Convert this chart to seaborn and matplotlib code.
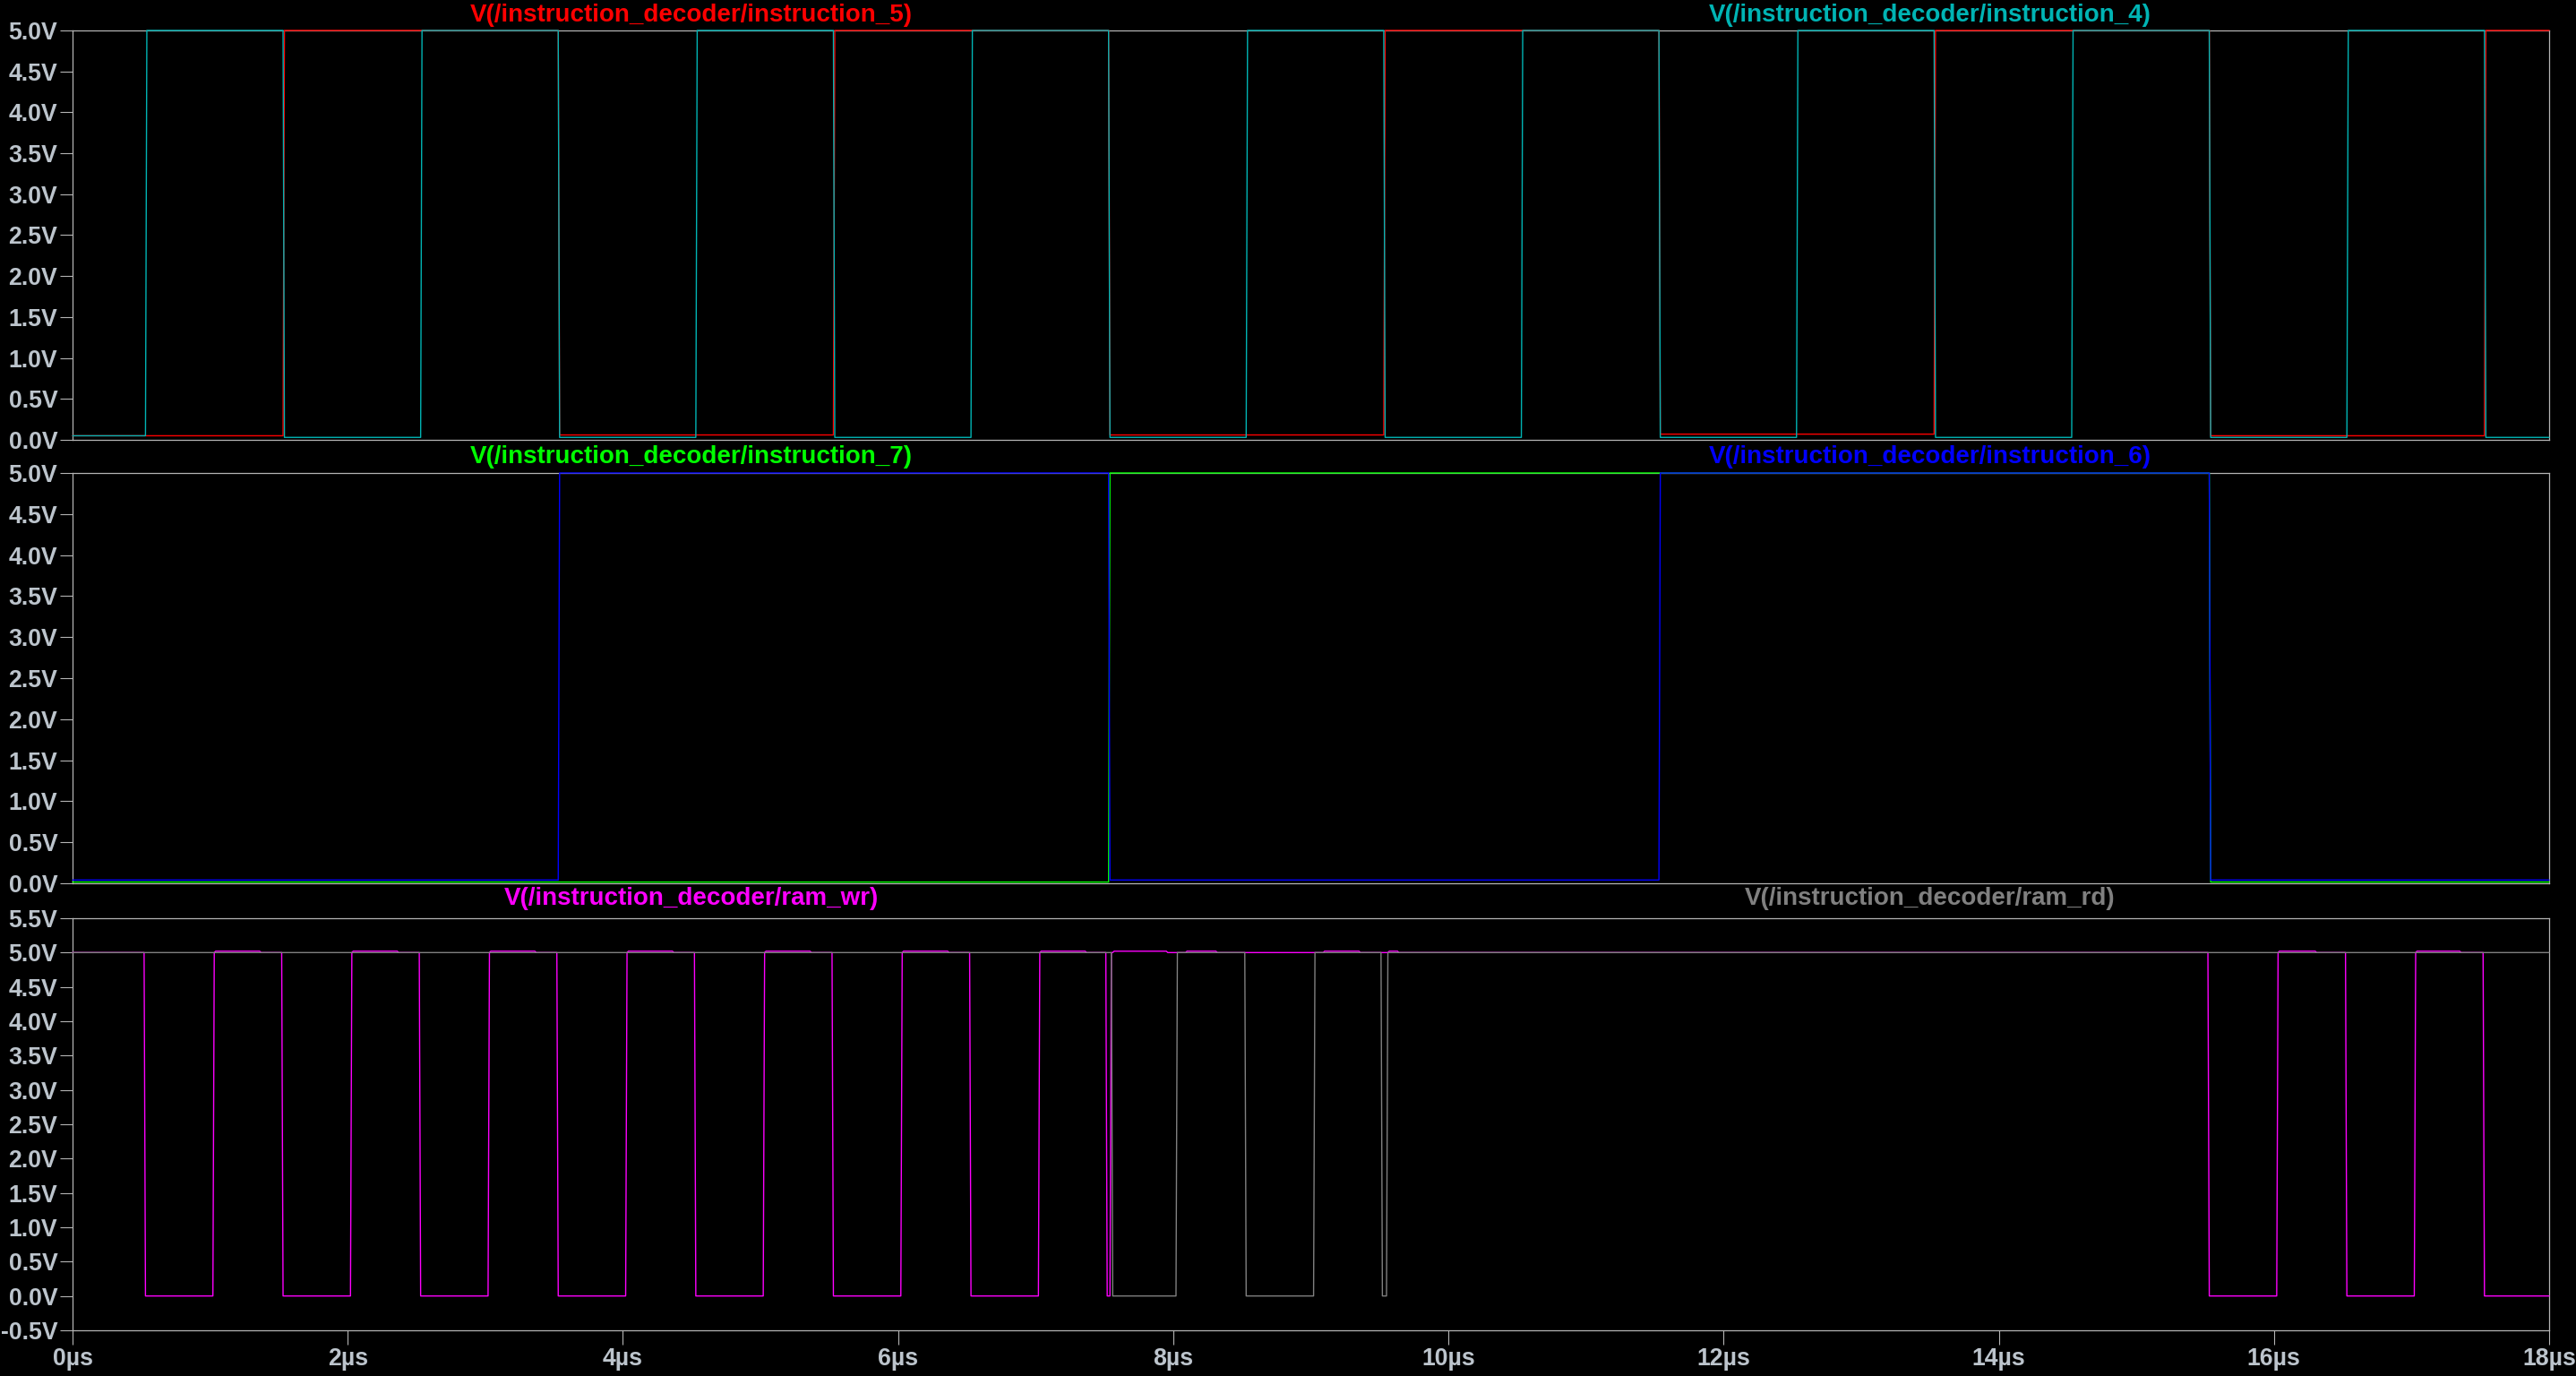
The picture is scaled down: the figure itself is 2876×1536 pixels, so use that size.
import numpy as np
import matplotlib
matplotlib.use("Agg")
import matplotlib.pyplot as plt
import seaborn as sns

# ---------------- data ----------------
# change points: time [µs] and the level [V] reached at that time
i4_times = [0.0, 0.53, 1.53, 2.53, 3.53, 4.53, 5.53, 6.53, 7.53, 8.53, 9.53,
            10.53, 11.53, 12.53, 13.53, 14.53, 15.53, 16.53, 17.53]
i4_levels = [0.05, 5.0, 0.03, 5.0, 0.03, 5.0, 0.03, 5.0, 0.03, 5.0, 0.03,
             5.0, 0.03, 5.0, 0.03, 5.0, 0.03, 5.0, 0.03]

i5_times = [0.0, 1.53, 3.53, 5.53, 7.53, 9.53, 11.53, 13.53, 15.53, 17.53]
i5_levels = [0.05, 5.0, 0.06, 5.0, 0.06, 5.0, 0.07, 5.0, 0.05, 5.0]

i6_times = [0.0, 3.53, 7.53, 11.53, 15.53]
i6_levels = [0.04, 5.0, 0.04, 5.0, 0.04]

i7_times = [0.0, 7.53, 15.53]
i7_levels = [0.015, 5.0, 0.015]

wr_times = [0.0, 0.52, 1.02, 1.03, 1.36, 1.52, 2.02, 2.03, 2.36, 2.52, 3.02, 3.03, 3.36,
            3.52, 4.02, 4.03, 4.36, 4.52, 5.02, 5.03, 5.36, 5.52, 6.02, 6.03, 6.36,
            6.52, 7.02, 7.03, 7.36, 7.51, 7.54, 7.56, 7.95, 8.09, 8.31, 9.09, 9.35,
            9.56, 9.63, 15.52, 16.02, 16.03, 16.30, 16.52, 17.02, 17.03, 17.35, 17.52]
wr_levels = [5.0, 0.0, 5.0, 5.02, 5.0, 0.0, 5.0, 5.02, 5.0, 0.0, 5.0, 5.02, 5.0,
             0.0, 5.0, 5.02, 5.0, 0.0, 5.0, 5.02, 5.0, 0.0, 5.0, 5.02, 5.0,
             0.0, 5.0, 5.02, 5.0, 0.0, 5.0, 5.02, 5.0, 5.02, 5.0, 5.02, 5.0,
             5.02, 5.0, 0.0, 5.0, 5.02, 5.0, 0.0, 5.0, 5.02, 5.0, 0.0]

rd_times = [0.0, 7.55, 8.02, 8.52, 9.02, 9.51, 9.55]
rd_levels = [5.0, 0.0, 5.0, 0.0, 5.0, 0.0, 5.0]

t_end = 18.0

names = {
    "i5": "V(/instruction_decoder/instruction_5)",
    "i4": "V(/instruction_decoder/instruction_4)",
    "i7": "V(/instruction_decoder/instruction_7)",
    "i6": "V(/instruction_decoder/instruction_6)",
    "wr": "V(/instruction_decoder/ram_wr)",
    "rd": "V(/instruction_decoder/ram_rd)",
}
colors = {"i5": "#ff0000", "i4": "#00b4b4", "i7": "#00ff00",
          "i6": "#0000ff", "wr": "#ff00ff", "rd": "#808080"}

x_ticks = [0, 2, 4, 6, 8, 10, 12, 14, 16, 18]
y_ticks_top = [0.0, 0.5, 1.0, 1.5, 2.0, 2.5, 3.0, 3.5, 4.0, 4.5, 5.0]
y_ticks_bot = [-0.5, 0.0, 0.5, 1.0, 1.5, 2.0, 2.5, 3.0, 3.5, 4.0, 4.5, 5.0, 5.5]

RAMP = 0.01


def waveform(times, levels):
    t = [times[0]]
    v = [levels[0]]
    for tc, lv in zip(times[1:], levels[1:]):
        t.append(tc)
        v.append(v[-1])
        t.append(tc + RAMP)
        v.append(lv)
    t.append(t_end)
    v.append(v[-1])
    return np.array(t), np.array(v)


# ---------------- style ----------------
sns.set_theme(style="dark", rc={
    "axes.facecolor": "black",
    "figure.facecolor": "black",
    "axes.grid": False,
})
plt.rcParams["font.family"] = ["Liberation Sans", "DejaVu Sans"]
plt.rcParams["font.weight"] = "bold"

FRAME = "#b4b4b4"
TICKTXT = "#bcc4cc"
TICKFS = 19.2
TITLEFS = 20.0

W, H = 2876, 1536
fig = plt.figure(figsize=(W / 100, H / 100), dpi=100, facecolor="black")
left = 81 / W
width = 2765 / W
ax1 = fig.add_axes([left, 1 - 491 / H, width, 457 / H])
ax2 = fig.add_axes([left, 1 - 986 / H, width, 458 / H])
ax3 = fig.add_axes([left, 1 - 1485 / H, width, 460 / H])

LW = 1.0


def draw(ax, key, times, levels, z):
    t, v = waveform(times, levels)
    sns.lineplot(x=t, y=v, ax=ax, color=colors[key], linewidth=LW,
                 estimator=None, sort=False, legend=False,
                 zorder=z, clip_on=False)


draw(ax1, "i5", i5_times, i5_levels, 3)
draw(ax1, "i4", i4_times, i4_levels, 4)
draw(ax2, "i7", i7_times, i7_levels, 3)
draw(ax2, "i6", i6_times, i6_levels, 4)
draw(ax3, "wr", wr_times, wr_levels, 3)
draw(ax3, "rd", rd_times, rd_levels, 4)

for ax in (ax1, ax2, ax3):
    ax.set_facecolor("black")
    ax.set_xlim(0, 18)
    ax.set_xlabel("")
    ax.set_ylabel("")
    for s in ax.spines.values():
        s.set_visible(True)
        s.set_color(FRAME)
        s.set_linewidth(0.9)
        s.set_zorder(2)
    ax.tick_params(axis="y", direction="out", length=10, width=0.8,
                   color=FRAME, labelcolor=TICKTXT, labelsize=TICKFS, pad=2,
                   left=True)
    ax.set_xticks(x_ticks)

for ax in (ax1, ax2):
    ax.set_ylim(0, 5)
    ax.set_yticks(y_ticks_top)
    ax.set_yticklabels([f"{v:.1f}V" for v in y_ticks_top], fontweight="bold")
    ax.tick_params(axis="x", bottom=False, labelbottom=False)

ax3.set_ylim(-0.5, 5.5)
ax3.set_yticks(y_ticks_bot)
ax3.set_yticklabels([f"{v:.1f}V" for v in y_ticks_bot], fontweight="bold")
ax3.set_xticklabels([f"{v}µs" for v in x_ticks], fontweight="bold")
ax3.tick_params(axis="x", direction="out", length=11.5, width=0.8,
                color=FRAME, labelcolor=TICKTXT, labelsize=TICKFS, pad=2,
                bottom=True)


def title(ax, key, xpos, off):
    ax.text(xpos, 1 + off, names[key], transform=ax.transAxes, ha="center",
            va="center", color=colors[key], fontsize=TITLEFS, fontweight="bold")


title(ax1, "i5", 0.25, 17 / 458)
title(ax1, "i4", 0.75, 17 / 458)
title(ax2, "i7", 0.25, 18 / 458)
title(ax2, "i6", 0.75, 18 / 458)
title(ax3, "wr", 0.25, 22 / 460)
title(ax3, "rd", 0.75, 22 / 460)

fig.savefig("out.png", dpi=100, facecolor="black")
